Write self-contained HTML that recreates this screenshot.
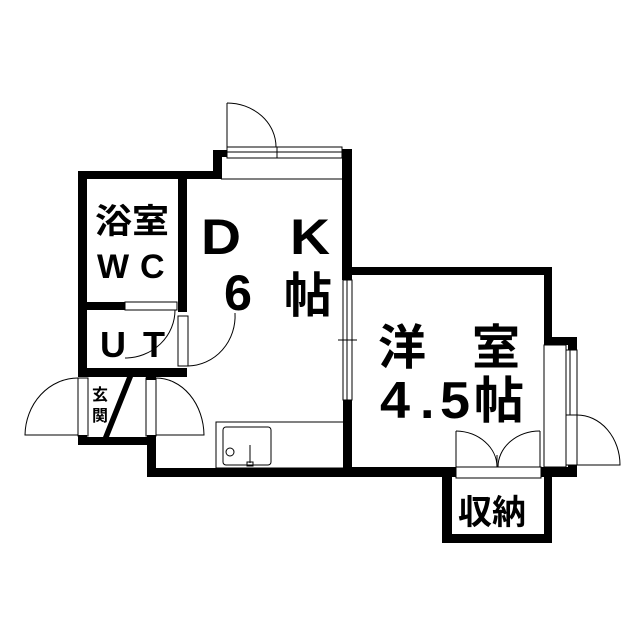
<!DOCTYPE html>
<html><head><style>body{margin:0;background:#fff}svg{display:block}
text{font-family:"Liberation Sans","Noto Sans CJK JP",sans-serif;fill:#000;font-weight:bold}</style></head><body>
<svg width="640" height="640" viewBox="0 0 640 640" xmlns="http://www.w3.org/2000/svg">
<g fill="none" stroke="#000" stroke-width="1">
<rect x="227" y="147" width="115" height="11"/>
<line x1="227" y1="152" x2="342" y2="152"/>
<line x1="277" y1="147" x2="277" y2="158"/>
<line x1="227" y1="147" x2="227" y2="103"/>
<path d="M227 103 A49 44 0 0 1 276 147"/>
<line x1="221" y1="179" x2="345" y2="179"/>
<rect x="343" y="280" width="9" height="120"/>
<line x1="347" y1="280" x2="347" y2="400"/>
<line x1="338" y1="340" x2="357" y2="340"/>
<rect x="125" y="302" width="52" height="8"/>
<path d="M175 310 A50 48 0 0 1 125 358"/>
<rect x="178" y="316" width="10" height="50"/>
<path d="M235 313 A48 50 0 0 1 188 366"/>
<rect x="78" y="378" width="10" height="58"/>
<path d="M78 378 A53 58 0 0 0 25 435 L78 435"/>
<rect x="146" y="378" width="10" height="58"/>
<path d="M156 378 A48 58 0 0 1 204 435 L156 435"/>
<rect x="216" y="422" width="129" height="46"/>
<rect x="223" y="427" width="48" height="38" rx="3"/>
<circle cx="230" cy="452" r="4"/>
<line x1="250" y1="445" x2="250" y2="463"/>
<rect x="247" y="462" width="6" height="4"/>
<rect x="544" y="345" width="22" height="122"/>
<rect x="566" y="350" width="11" height="65"/>
<line x1="570" y1="350" x2="570" y2="415"/>
<rect x="566" y="415" width="11" height="50"/>
<path d="M577 415 A43 50 0 0 1 620 465 L577 465"/>
<rect x="456" y="467" width="85" height="11"/>
<line x1="456" y1="431" x2="456" y2="467"/>
<line x1="540" y1="431" x2="540" y2="467"/>
<path d="M456 431 A42 36 0 0 1 497 467"/>
<path d="M540 431 A42 36 0 0 0 498 467"/>
<line x1="497" y1="455" x2="497" y2="467"/>
</g>
<g fill="#000">
<rect x="213" y="150" width="9" height="29"/>
<rect x="213" y="150" width="14" height="7"/>
<rect x="78" y="171" width="143" height="8"/>
<rect x="78" y="171" width="9" height="206"/>
<rect x="342" y="149" width="10" height="131"/>
<rect x="178" y="171" width="9" height="141"/>
<rect x="87" y="302" width="38" height="8"/>
<rect x="78" y="368" width="109" height="9"/>
<rect x="343" y="267" width="209" height="8"/>
<rect x="544" y="267" width="8" height="78"/>
<rect x="544" y="337" width="33" height="8"/>
<rect x="568" y="337" width="9" height="13"/>
<rect x="343" y="400" width="9" height="77"/>
<rect x="78" y="435" width="9" height="10"/>
<rect x="78" y="437" width="77" height="8"/>
<rect x="146" y="377" width="10" height="3"/>
<rect x="147" y="435" width="9" height="42"/>
<rect x="147" y="468" width="205" height="9"/>
<rect x="343" y="467" width="113" height="10"/>
<rect x="541" y="467" width="36" height="10"/>
<rect x="568" y="465" width="9" height="12"/>
<rect x="442" y="467" width="10" height="76"/>
<rect x="442" y="534" width="110" height="9"/>
<rect x="544" y="477" width="8" height="66"/>
<polygon points="127,377 133,377 109,437 103,437"/>
</g>
<g>
<text x="95" y="233" font-size="34" textLength="74" lengthAdjust="spacingAndGlyphs">浴室</text>
<text x="97" y="278" font-size="34">W</text>
<text x="140" y="278" font-size="34">C</text>
<text x="100" y="357" font-size="36">U</text>
<text x="143" y="357" font-size="36">T</text>
<text x="201" y="254" font-size="50" textLength="40" lengthAdjust="spacingAndGlyphs">D</text>
<text x="290" y="254" font-size="50" textLength="40" lengthAdjust="spacingAndGlyphs">K</text>
<text x="224" y="310" font-size="50" textLength="28" lengthAdjust="spacingAndGlyphs">6</text>
<text x="284" y="312" font-size="48">帖</text>
<text x="378" y="364" font-size="48">洋</text>
<text x="472" y="364" font-size="48">室</text>
<text x="380" y="418" font-size="52" textLength="30" lengthAdjust="spacingAndGlyphs">4</text>
<text x="420" y="418" font-size="52">.</text>
<text x="440" y="418" font-size="52" textLength="30" lengthAdjust="spacingAndGlyphs">5</text>
<text x="474" y="418" font-size="50">帖</text>
<text x="458" y="524" font-size="34">収納</text>
<text x="92" y="400" font-size="16">玄</text>
<text x="92" y="421" font-size="16">関</text>
</g>
</svg>
</body></html>
